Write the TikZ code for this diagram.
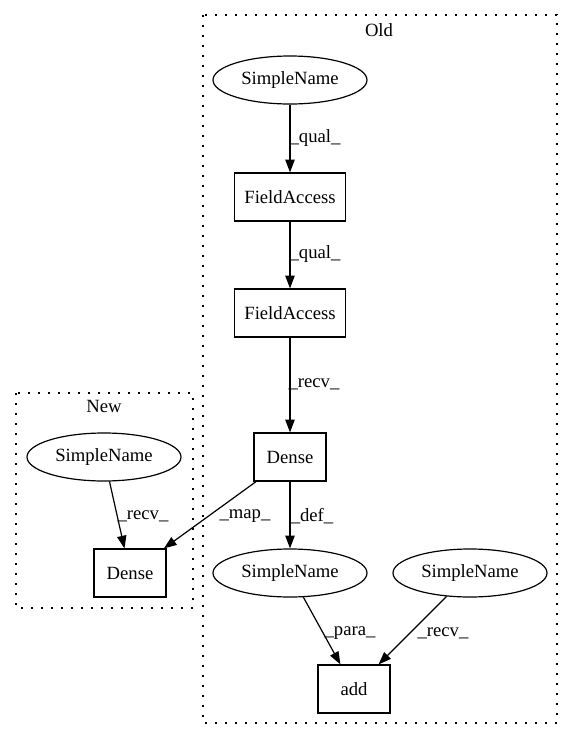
\documentclass[tikz,border=0pt]{standalone}
\usepackage{fontspec}
\setmainfont{Liberation Serif}
\usetikzlibrary{arrows.meta,shapes.geometric}
\begin{document}
\begin{tikzpicture}[x=0.75pt,y=-0.75pt,
  every node/.style={font=\fontsize{14pt}{16pt}\selectfont},
  box/.style={draw, rectangle, inner sep=0pt, minimum height=36pt, minimum width=54pt, line width=0.9pt},
  oval/.style={draw, ellipse, inner sep=0pt, minimum width=115.5pt, minimum height=36pt, line width=0.9pt},
  edge/.style={-{Triangle[length=9.5pt,width=7pt]}, line width=0.9pt},
  lbl/.style={inner sep=0pt},
  cluster/.style={draw, dash pattern=on 1.2pt off 6.3pt, line width=1.2pt}]
\useasboundingbox (0,0) rectangle (573,740);
% clusters
\draw[cluster] (203,15) rectangle (557,723);
\node[lbl] (oldlbl) at (379,30) {Old};
\draw[cluster] (16,393) rectangle (193,608);
\node[lbl] (newlbl) at (104,406) {New};
% nodes
\node[oval] (sn1) at (290,80) {SimpleName};
\node[box, minimum width=83.25pt] (fa1) at (290,197) {FieldAccess};
\node[box, minimum width=83.25pt] (fa2) at (290,313) {FieldAccess};
\node[box] (dense) at (290,457) {Dense};
\node[oval] (nsn) at (104,457) {SimpleName};
\node[box] (ndense) at (130,573) {Dense};
\node[oval] (sn2) at (290,573) {SimpleName};
\node[oval] (sn3) at (470,573) {SimpleName};
\node[box] (add) at (354,689) {add};
% edges
\draw[edge] (sn1) -- (fa1);
\draw[edge] (fa1) -- (fa2);
\draw[edge] (fa2) -- (dense);
\draw[edge] (nsn) -- (ndense);
\draw[edge] (dense) -- (ndense);
\draw[edge] (dense) -- (sn2);
\draw[edge] (sn2) -- (add);
\draw[edge] (sn3) -- (add);
% edge labels
\node[lbl] (l1) at (315,138) {\_qual\_};
\node[lbl] (l2) at (315,254) {\_qual\_};
\node[lbl] (l3) at (314,384) {\_recv\_};
\node[lbl] (l4) at (143,516) {\_recv\_};
\node[lbl] (l5) at (245,516) {\_map\_};
\node[lbl] (l6) at (312,516) {\_def\_};
\node[lbl] (l7) at (350,633) {\_para\_};
\node[lbl] (l8) at (443,633) {\_recv\_};
\end{tikzpicture}
\end{document}
